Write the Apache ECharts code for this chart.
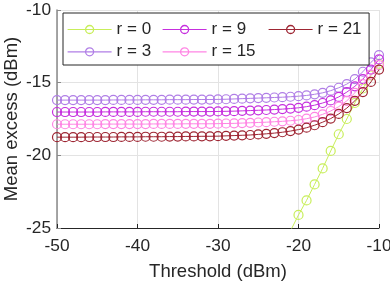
<!DOCTYPE html>
<html><head><meta charset="utf-8">
<script src="https://cdn.jsdelivr.net/npm/echarts@6/dist/echarts.min.js"></script>
<style>html,body{margin:0;padding:0;background:#fff}#c{width:390px;height:281px}</style>
</head><body><div id="c"></div>
<script>
const thresholds = [-50,-49,-48,-47,-46,-45,-44,-43,-42,-41,-40,-39,-38,-37,-36,-35,-34,-33,-32,-31,-30,-29,-28,-27,-26,-25,-24,-23,-22,-21,-20,-19,-18,-17,-16,-15,-14,-13,-12,-11,-10];
const names = ['r = 0','r = 3','r = 9','r = 15','r = 21'];
const r0 = [null,null,null,null,null,null,null,null,null,null,null,null,null,null,null,null,null,null,null,null,null,null,null,null,null,null,null,null,null,-25.2,-24.1,-23.1,-22.0,-20.9,-19.7,-18.55,-17.5,-16.4,-15.4,-14.5,-13.7];
const r3 = [-16.2,-16.2,-16.2,-16.2,-16.2,-16.2,-16.2,-16.19,-16.19,-16.19,-16.19,-16.18,-16.18,-16.18,-16.17,-16.17,-16.17,-16.16,-16.16,-16.16,-16.15,-16.14,-16.12,-16.1,-16.08,-16.06,-16.04,-16.02,-16.0,-15.97,-15.93,-15.88,-15.8,-15.7,-15.55,-15.35,-15.1,-14.75,-14.25,-13.6,-13.1];
const r9 = [-17.02,-17.02,-17.02,-17.02,-17.02,-17.02,-17.01,-17.01,-17.01,-17.01,-17.01,-17.0,-17.0,-17.0,-17.0,-17.0,-16.99,-16.99,-16.99,-16.99,-16.98,-16.97,-16.96,-16.94,-16.92,-16.9,-16.88,-16.85,-16.82,-16.78,-16.73,-16.65,-16.55,-16.4,-16.22,-15.98,-15.65,-15.25,-14.75,-14.1,-13.4];
const r15 = [-17.86,-17.86,-17.86,-17.86,-17.86,-17.86,-17.85,-17.85,-17.85,-17.85,-17.85,-17.85,-17.84,-17.84,-17.84,-17.84,-17.83,-17.83,-17.83,-17.83,-17.82,-17.81,-17.8,-17.78,-17.76,-17.74,-17.72,-17.69,-17.66,-17.62,-17.57,-17.48,-17.36,-17.18,-16.95,-16.65,-16.25,-15.7,-15.1,-14.45,-13.8];
const r21 = [-18.75,-18.75,-18.75,-18.75,-18.74,-18.74,-18.74,-18.74,-18.73,-18.73,-18.73,-18.72,-18.72,-18.72,-18.71,-18.71,-18.7,-18.7,-18.69,-18.69,-18.68,-18.66,-18.64,-18.62,-18.6,-18.56,-18.52,-18.47,-18.41,-18.33,-18.23,-18.1,-17.93,-17.72,-17.47,-17.15,-16.75,-16.25,-15.65,-14.95,-14.1];
const seriesValues = [r0, r3, r9, r15, r21];
const colors = ['#c8ee5a','#b07ee6','#c62fde','#ff85e4','#9e2633'];

const FONT = '"Liberation Sans", Arial, sans-serif';
const TXT = '#262626';
const chart = echarts.init(document.getElementById('c'), null, {renderer:'canvas'});
const series = seriesValues.map((vals, i) => ({
  name: names[i], type: 'line',
  data: thresholds.map((t, j) => [t, vals[j]]),
  symbol: 'circle', symbolSize: 9, showAllSymbol: true,
  lineStyle: {color: colors[i], width: 1},
  itemStyle: {color: 'rgba(0,0,0,0)', borderColor: colors[i], borderWidth: 1.2},
  emphasis: {disabled: true},
  clip: true, z: 2 + i
}));
function legendCol(left, data, boxed) {
  const o = {
    orient: 'vertical', left: left, top: 20.5, itemWidth: 44, itemHeight: 10, itemGap: 4.3,
    data: data, selectedMode: false, z: 60, padding: 0,
    lineStyle: {width: 1.2}, itemStyle: {borderWidth: 1.3},
    textStyle: {fontFamily: FONT, fontSize: 17, color: TXT, lineHeight: 18}
  };
  if (boxed) {
    o.left = 63; o.top = 13;
    o.padding = [7.5, 218, 4.2, 4];
    o.borderColor = '#262626'; o.borderWidth = 1; o.backgroundColor = '#fff';
    o.z = 55;
  }
  return o;
}
chart.setOption({
  animation: false,
  grid: {left: 57, right: 11, top: 10, bottom: 53, containLabel: false, outerBoundsMode: 'none'},
  xAxis: {
    type: 'value', min: -50, max: -10, interval: 10,
    name: 'Threshold (dBm)', nameLocation: 'middle', nameGap: 34, nameMoveOverlap: false,
    nameTextStyle: {fontFamily: FONT, fontSize: 18.5, color: TXT},
    axisLine: {onZero: false, lineStyle: {color: TXT, width: 1}},
    axisTick: {inside: true, length: 4, lineStyle: {color: TXT}},
    axisLabel: {fontFamily: FONT, fontSize: 17.3, color: TXT, margin: 10},
    splitLine: {show: true, lineStyle: {color: '#e3e3e3', width: 1}}
  },
  yAxis: {
    type: 'value', min: -25, max: -10, interval: 5,
    name: 'Mean excess (dBm)', nameLocation: 'middle', nameGap: 36, nameMoveOverlap: false,
    nameTextStyle: {fontFamily: FONT, fontSize: 18.5, color: TXT},
    axisLine: {show: true, onZero: false, lineStyle: {color: '#8a8a8a', width: 1.5}},
    axisTick: {show: true, inside: true, length: 4, lineStyle: {color: '#8a8a8a'}},
    axisLabel: {fontFamily: FONT, fontSize: 17.3, color: TXT, margin: 6},
    splitLine: {show: true, lineStyle: {color: '#e3e3e3', width: 1}}
  },
  legend: [
    legendCol(67, ['r = 0','r = 3'], true),
    legendCol(162, ['r = 9','r = 15']),
    legendCol(268, ['r = 21'])
  ],
  series: series
});
</script></body></html>
